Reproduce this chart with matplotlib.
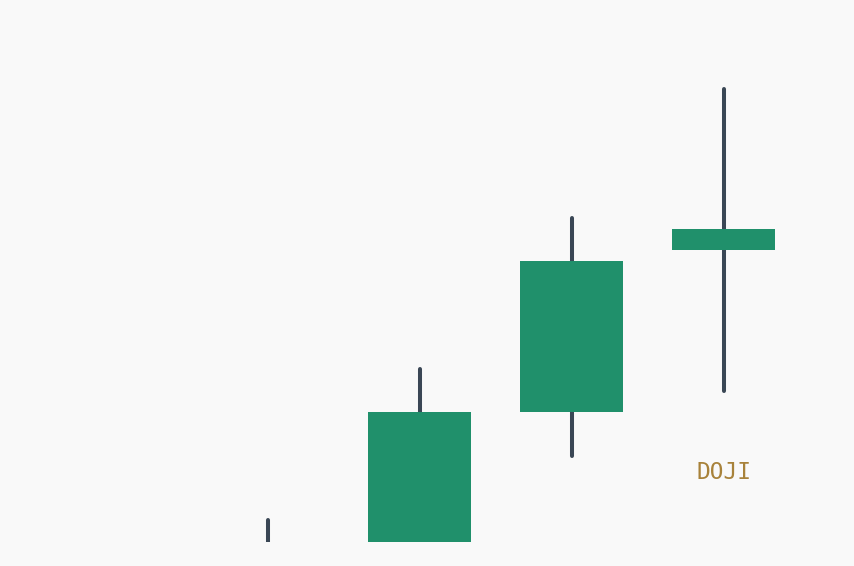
import matplotlib
matplotlib.use("Agg")
import matplotlib.pyplot as plt
from matplotlib.patches import Rectangle

# Candle data (arbitrary price units)
candles = ["C1", "C2", "C3", "C4"]
opens = [97.0, 99.0, 108.67, 119.47]
closes = [99.0, 108.67, 118.73, 120.87]
highs = [101.45, 111.5, 121.57, 130.2]
lows = [96.5, 98.0, 105.75, 110.07]
label_text = "DOJI"
label_index = 3
label_price = 104.67

BG = "#f9f9f9"
UP = "#20906b"
WICK = "#3a4755"
LABEL = "#a8823a"

fig = plt.figure(figsize=(8.545, 5.665), dpi=100, facecolor=BG)
ax = fig.add_axes([0, 24 / 566, 1, 542 / 566])
ax.set_facecolor(BG)
ax.set_xlim(-267.5 / 152, (854 - 267.5) / 152)
ax.set_ylim(100, 100 + 542 / 15)
ax.axis("off")

body_w = 103 / 152
for i, (o, c, h, l) in enumerate(zip(opens, closes, highs, lows)):
    ax.plot([i, i], [l, h], color=WICK, lw=2.9, solid_capstyle="round", zorder=1)
    ax.add_patch(Rectangle((i - body_w / 2, min(o, c)), body_w, abs(c - o),
                           facecolor=UP, edgecolor="none", zorder=2))

ax.text(label_index, label_price, label_text, color=LABEL, fontsize=16.5,
        family="DejaVu Sans Mono", ha="center", va="center")

fig.savefig("out.png", dpi=100, facecolor=BG)
